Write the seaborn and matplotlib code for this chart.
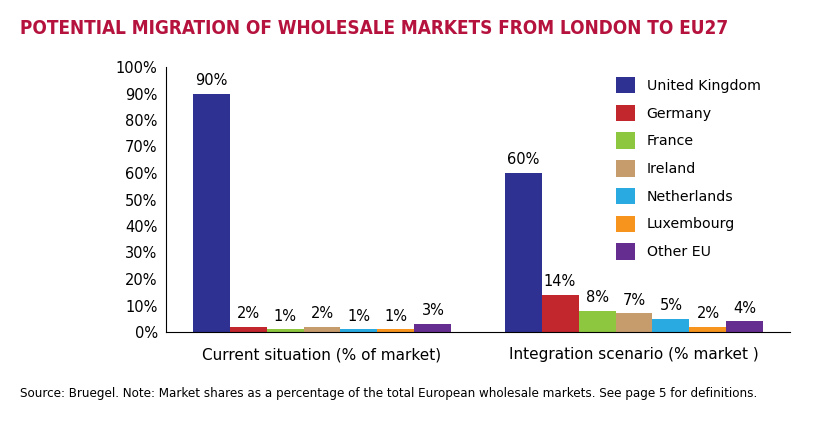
import pandas as pd
import seaborn as sns
import matplotlib.pyplot as plt
from matplotlib.ticker import PercentFormatter

scenarios = ['Current situation (% of market)', 'Integration scenario (% market )']
countries = ['United Kingdom', 'Germany', 'France', 'Ireland', 'Netherlands', 'Luxembourg', 'Other EU']
current = [90, 2, 1, 2, 1, 1, 3]
integration = [60, 14, 8, 7, 5, 2, 4]
colors = ['#2E3192', '#C1272D', '#8DC63F', '#C69C6D', '#29ABE2', '#F7941D', '#662D91']

df = pd.DataFrame({
    'scenario': [scenarios[0]] * 7 + [scenarios[1]] * 7,
    'country': countries * 2,
    'share': current + integration,
})

sns.set_style('white')
plt.rcParams['font.family'] = ['DejaVu Sans']
plt.rcParams['text.color'] = 'black'
plt.rcParams['xtick.color'] = 'black'
plt.rcParams['ytick.color'] = 'black'

fig = plt.figure(figsize=(8.39, 4.29), dpi=100)
ax = fig.add_axes([166 / 839, 1 - 332 / 429, (790 - 166) / 839, (332 - 67) / 429])

sns.barplot(data=df, x='scenario', y='share', hue='country', palette=colors,
            width=0.83, saturation=1, linewidth=0, ax=ax)

for cont in ax.containers:
    ax.bar_label(cont, fmt='%d%%', padding=4, fontsize=10.5)

ax.set_ylim(0, 100)
ax.set_yticks(range(0, 101, 10))
ax.yaxis.set_major_formatter(PercentFormatter(decimals=0))
ax.set_xlim(-0.5, 1.5)
ax.set_xticks([0, 1])
ax.set_xticklabels(scenarios, fontsize=11)
ax.set_xticks([-0.5, 0.5, 1.5], minor=True)
ax.tick_params(axis='x', which='major', length=0, pad=11)
ax.tick_params(axis='x', which='minor', length=5, color='black', width=0.8, direction='out')
ax.tick_params(axis='y', length=4, color='black', width=0.8, direction='out', labelsize=10.5, pad=2)
ax.set_xlabel('')
ax.set_ylabel('')
sns.despine(ax=ax)
for side in ['left', 'bottom']:
    ax.spines[side].set_color('black')
    ax.spines[side].set_linewidth(0.8)

leg = ax.legend(loc='upper left', bbox_to_anchor=(0.70, 1.01), frameon=False,
                fontsize=10.2, handlelength=1.4, handleheight=1.4,
                labelspacing=0.8, handletextpad=0.8)

fig.text(20 / 839, 1 - 28 / 429, 'POTENTIAL MIGRATION OF WHOLESALE MARKETS FROM LONDON TO EU27',
         color='#B5123E', fontsize=13.6, fontweight='bold', fontstretch='condensed', va='center')
fig.text(20 / 839, 1 - 394 / 429,
         'Source: Bruegel. Note: Market shares as a percentage of the total European wholesale markets. See page 5 for definitions.',
         fontsize=9.5, fontstretch='condensed', va='center')

fig.savefig('out.png', dpi=100)
